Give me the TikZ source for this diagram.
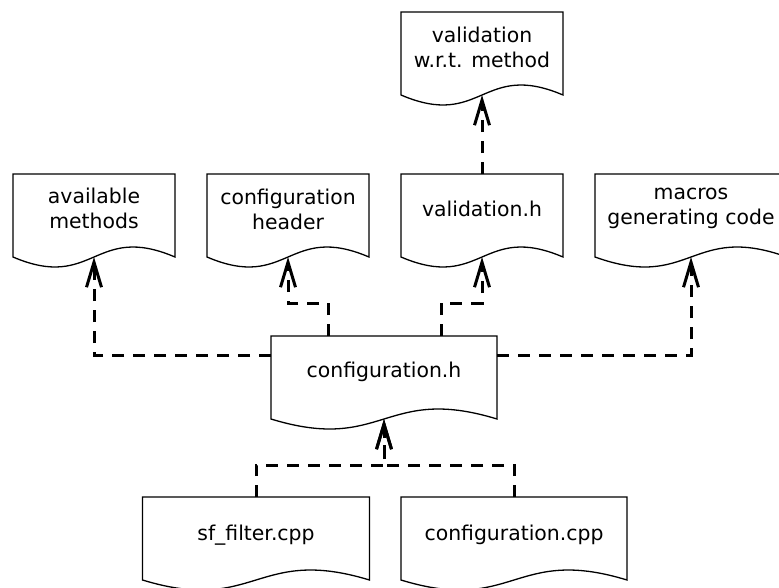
\documentclass[tikz,border=0pt]{standalone}
\usepackage{fontspec}
\setmainfont{DejaVu Sans}
\usetikzlibrary{arrows.meta,calc}

\tikzset{
  docframe/.style={rectangle, draw=none, inner sep=0pt, outer sep=0pt, minimum height=83pt},
  docline/.style={line width=1.3pt, line join=miter},
  doctext/.style={font=\fontsize{20.4}{25}\selectfont, align=center, inner sep=0pt},
  conn/.style={line width=3pt, dash pattern=on 12pt off 9pt,
    -{Straight Barb[length=25pt,width=15pt]}},
}

% #1 name, #2 centre x, #3 top y, #4 width, #5 text centre y, #6 text
\newcommand\docbox[6]{%
  \node[docframe, minimum width=#4pt] (#1) at (#2,#3+41.5) {};
  \node[doctext] (#1-text) at (#2,#5) {#6};
  \draw[docline] (#1.south west) -- (#1.north west) -- (#1.north east) -- (#1.south east)
    .. controls ($(#1.south east)+(-#4/2,-34.6)$) and ($(#1.south west)+(#4/2,34.6)$)
    .. (#1.south west) -- cycle;
}

\begin{document}
\begin{tikzpicture}[x=1pt,y=-1pt]
  \useasboundingbox (0,0) rectangle (779,587);
  \clip (0,0) rectangle (779,587);

  % documents
  \docbox{valw}{482}{12}{162}{47.5}{validation\\w.r.t. method}
  \docbox{avail}{94}{174}{162}{208.5}{available\\methods}
  \docbox{hdr}{288}{174}{162}{209}{configuration\\header}
  \docbox{valh}{482}{174}{162}{209}{validation.h}
  \docbox{macros}{691}{174}{192}{208.5}{macros\\generating code}
  \docbox{cfg}{384}{336}{226}{372}{configuration.h}
  \docbox{sf}{256}{497}{227}{535}{sf\_filter.cpp}
  \docbox{cpp}{514}{497}{226}{535}{configuration.cpp}

  % attachment points on configuration.h
  \coordinate (cfgL) at ($(cfg.north west)+(0,19)$);
  \coordinate (cfgR) at ($(cfg.north east)+(0,19)$);
  \coordinate (cfgA) at ($(cfg.north west)+(57,0)$);
  \coordinate (cfgB) at ($(cfg.north east)+(-56,0)$);

  % dependencies
  \draw[conn] (cfgL) -| (avail.south);
  \draw[conn] (cfgR) -| (macros.south);
  \draw[conn] (cfgA) -- ++(0,-33) -| (hdr.south);
  \draw[conn] (cfgB) -- ++(0,-33) -| (valh.south);
  \draw[conn] (valh.north) -- (valw.south);
  \draw[conn] (sf.north) -- ++(0,-32) -| (cfg.south);
  \draw[conn] (cpp.north) -- ++(0,-32) -| (cfg.south);
\end{tikzpicture}
\end{document}
